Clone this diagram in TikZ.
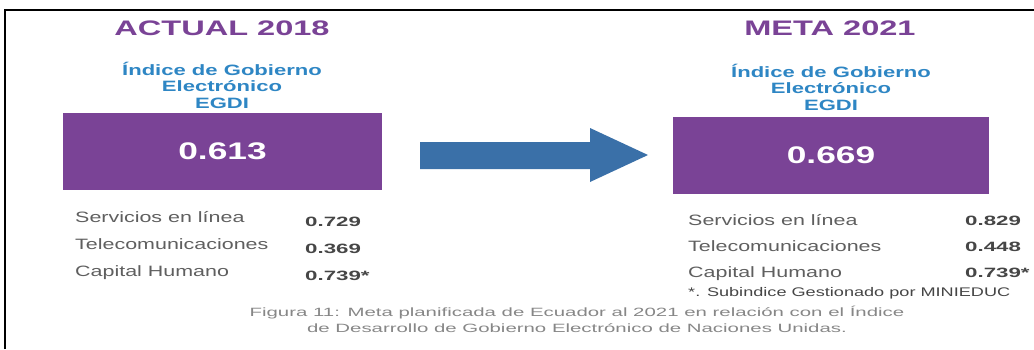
\documentclass[tikz,border=0pt]{standalone}
\usepackage{fontspec}
\setmainfont{Liberation Sans}
\newcommand\wf[3]{\fontspec{Liberation Sans}[FakeStretch=#1]\fontsize{#2}{#3}\selectfont}
\definecolor{egpurple}{RGB}{122,67,150}
\definecolor{egblue}{RGB}{46,134,196}
\definecolor{egarrow}{RGB}{58,112,168}
\definecolor{eglabel}{RGB}{95,95,95}
\definecolor{egval}{RGB}{70,70,70}
\definecolor{egcap}{RGB}{135,135,135}
\tikzset{
  titletext/.style={text=egpurple, font=\wf{1.55}{21}{24}\bfseries, inner sep=0pt},
  subtext/.style={text=egblue, font=\wf{1.47}{15}{16.5}\bfseries, align=center, inner sep=0pt},
  egbox/.style={fill=egpurple, text=white, font=\wf{1.47}{24}{26}\bfseries, minimum height=77pt, inner sep=0pt},
  rowlabel/.style={text=eglabel, font=\wf{1.43}{15}{17}, anchor=base west, inner sep=0pt},
  rowval/.style={text=egval, font=\wf{1.65}{13.5}{16}\bfseries, anchor=base west, inner sep=0pt},
  notetext/.style={text=egval, font=\wf{1.45}{12.5}{14}, anchor=base west, inner sep=0pt},
  captext/.style={text=egcap, font=\wf{1.7}{12}{16}, align=center, inner sep=0pt},
  frameline/.style={line width=2pt, black}
}
\begin{document}
\begin{tikzpicture}[x=1pt,y=-1pt]
\useasboundingbox (0,0) rectangle (1034,349);
\fill[white] (0,0) rectangle (1034,349);
% frame
\coordinate (fl) at (5,349);
\coordinate (fc) at (5,10);
\coordinate (fr) at (1034,10);
\draw[frameline] (fl) -- (fc) -- (fr);
% titles
\node[titletext] (t1) at (222,28) {ACTUAL 2018};
\node[titletext] (t2) at (830,28) {META 2021};
% subtitles
\node[subtext] (s1) at (222,85) {Índice de Gobierno\\Electrónico\\EGDI};
\node[subtext] (s2) at (831,87) {Índice de Gobierno\\Electrónico\\EGDI};
% boxes
\node[egbox, minimum width=319pt] (b1) at (222.5,151.5) {0.613};
\node[egbox, minimum width=316pt] (b2) at (831,155.5) {0.669};
% arrow
\coordinate (a0) at (420,155.5);
\fill[egarrow] (420,142) -- (590,142) -- (590,128) -- (648,155) -- (590,182) -- (590,169) -- (420,169) -- cycle;
% left rows
\node[rowlabel] (l1) at (75,222.5) {Servicios en línea};
\node[rowlabel] (l2) at (75,249.5) {Telecomunicaciones};
\node[rowlabel] (l3) at (75,276.5) {Capital Humano};
\node[rowval] (v1) at (305,226.5) {0.729};
\node[rowval] (v2) at (305,253.5) {0.369};
\node[rowval] (v3) at (305,280.5) {0.739*};
% right rows
\node[rowlabel] (r1) at (688,225) {Servicios en línea};
\node[rowlabel] (r2) at (688,251) {Telecomunicaciones};
\node[rowlabel] (r3) at (688,277) {Capital Humano};
\node[rowval] (w1) at (965,225) {0.829};
\node[rowval] (w2) at (965,251) {0.448};
\node[rowval] (w3) at (965,277) {0.739*};
\node[notetext] (n1) at (688,296) {*. Subindice Gestionado por MINIEDUC};
% caption
\node[captext] (c1) at (577,319) {Figura 11: Meta planificada de Ecuador al 2021 en relación con el Índice\\de Desarrollo de Gobierno Electrónico de Naciones Unidas.};
\end{tikzpicture}
\end{document}
